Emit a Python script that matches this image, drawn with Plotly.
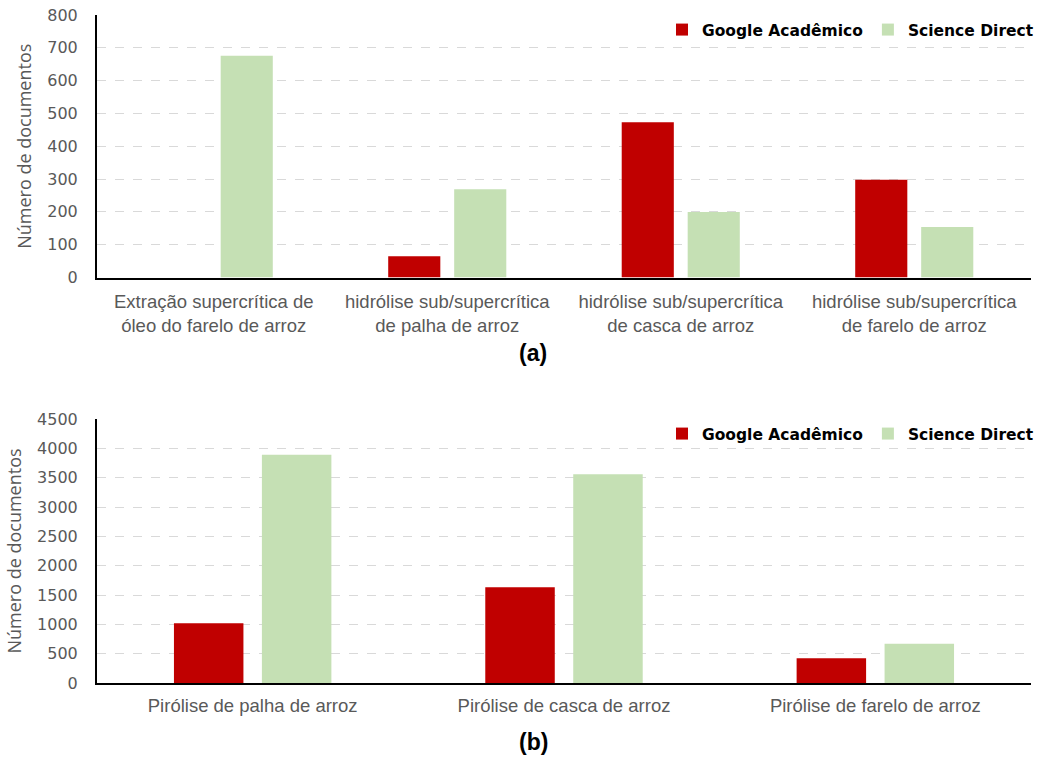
import plotly.graph_objects as go

# Panel (a): sub/supercritical processes
cats_a = [
    "Extração supercrítica de<br>óleo do farelo de arroz",
    "hidrólise sub/supercrítica<br>de palha de arroz",
    "hidrólise sub/supercrítica<br>de casca de arroz",
    "hidrólise sub/supercrítica<br>de farelo de arroz",
]
google_a = [0, 65, 473, 298]
science_a = [676, 269, 200, 154]

# Panel (b): pyrolysis
cats_b = [
    "Pirólise de palha de arroz",
    "Pirólise de casca de arroz",
    "Pirólise de farelo de arroz",
]
google_b = [1020, 1630, 420]
science_b = [3890, 3560, 670]

ticks_a = list(range(0, 801, 100))
ticks_b = list(range(0, 4501, 500))

RED = "#c00000"
GREEN = "#c5e0b4"
TICK_FONT = dict(family="DejaVu Sans", size=16, color="#595959")
CAT_FONT = dict(family="Liberation Sans, Arial, sans-serif", size=18.5, color="#595959")
TITLE_FONT = dict(family="Open Sans", size=18, color="#595959")
LEG_FONT = dict(family="DejaVu Sans", size=15.5, color="#000000", weight="bold")

fig = go.Figure()
fig.add_bar(x=cats_a, y=google_a, name="Google Acadêmico", marker_color=RED,
            marker_line_width=0, xaxis="x", yaxis="y", legend="legend")
fig.add_bar(x=cats_a, y=science_a, name="Science Direct", marker_color=GREEN,
            marker_line_width=0, xaxis="x", yaxis="y", legend="legend")
fig.add_bar(x=cats_b, y=google_b, name="Google Acadêmico", marker_color=RED,
            marker_line_width=0, xaxis="x2", yaxis="y2", legend="legend2")
fig.add_bar(x=cats_b, y=science_b, name="Science Direct", marker_color=GREEN,
            marker_line_width=0, xaxis="x2", yaxis="y2", legend="legend2")

W, H = 1039, 775
xdom = [97 / W, 1031 / W]
ydom_a = [1 - 277.5 / H, 1 - 15 / H]
ydom_b = [1 - 683 / H, 1 - 419 / H]

common_x = dict(showline=True, linecolor="#000000", linewidth=2, ticks="",
                showgrid=False, tickfont=CAT_FONT, automargin=False, fixedrange=True)
common_y = dict(showline=True, linecolor="#000000", linewidth=2, ticks="",
                showgrid=True, gridcolor="#d9d9d9", griddash="dash", gridwidth=1,
                zeroline=False, tickfont=TICK_FONT, automargin=False,
                ticklabelstandoff=14, title_font=TITLE_FONT, fixedrange=True)

fig.update_layout(
    width=W, height=H,
    margin=dict(l=0, r=0, t=0, b=0),
    paper_bgcolor="white", plot_bgcolor="white",
    bargap=0.435, bargroupgap=0.21, barmode="group",
    xaxis=dict(domain=xdom, anchor="y", ticklabelstandoff=6, **common_x),
    yaxis=dict(domain=ydom_a, anchor="x", range=[0, 800], tickvals=ticks_a,
               title=dict(text="Número de documentos", standoff=11), **common_y),
    xaxis2=dict(domain=xdom, anchor="y2", ticklabelstandoff=5, **common_x),
    yaxis2=dict(domain=ydom_b, anchor="x2", range=[0, 4500], tickvals=ticks_b,
                title=dict(text="Número de documentos", standoff=11), **common_y),
    legend=dict(orientation="h", x=1039 / W, xanchor="right", y=1 - 30 / H, yanchor="middle",
                font=LEG_FONT, bgcolor="rgba(255,255,255,0)", itemwidth=30,
                traceorder="normal"),
    legend2=dict(orientation="h", x=1039 / W, xanchor="right", y=1 - 434 / H, yanchor="middle",
                 font=LEG_FONT, bgcolor="rgba(255,255,255,0)", itemwidth=30,
                 traceorder="normal"),
    showlegend=True,
    annotations=[
        dict(text="<b>(a)</b>", x=533 / W, y=1 - 353 / H, xref="paper", yref="paper",
             showarrow=False, font=dict(family="Liberation Sans, sans-serif", size=23, color="#000000")),
        dict(text="<b>(b)</b>", x=533 / W, y=1 - 757 / H, xref="paper", yref="paper",
             showarrow=False, font=dict(family="Liberation Sans, sans-serif", size=23, color="#000000")),
    ],
)

fig.write_html("out.html")
